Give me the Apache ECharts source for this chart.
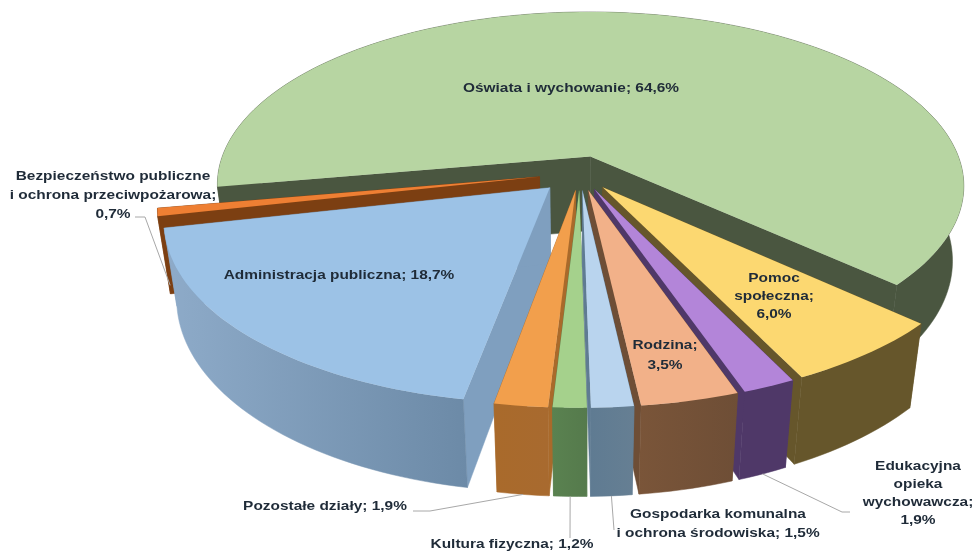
<!DOCTYPE html>
<html>
<head>
<meta charset="utf-8">
<title>Wydatki</title>
<style>
  html, body { margin: 0; padding: 0; background: #fff; }
  #main { width: 976px; height: 553px; }
</style>
<script src="https://cdn.jsdelivr.net/npm/echarts@6/dist/echarts.min.js"></script>
</head>
<body>
<div id="main"></div>
<script>
// dane, w kolejnosci zgodnej z ruchem wskazowek zegara
const categories = ['Oświata i wychowanie', 'Pomoc społeczna', 'Edukacyjna opieka wychowawcza', 'Rodzina',
  'Gospodarka komunalna i ochrona środowiska', 'Kultura fizyczna', 'Pozostałe działy',
  'Administracja publiczna', 'Bezpieczeństwo publiczne i ochrona przeciwpożarowa']
const values = [64.6, 6.0, 1.9, 3.5, 1.5, 1.2, 1.9, 18.7, 0.7]
const labels = ['Oświata i wychowanie; 64,6%', 'Pomoc\nspołeczna;\n6,0%', 'Edukacyjna\nopieka\nwychowawcza;\n1,9%',
  'Rodzina;\n3,5%', 'Gospodarka komunalna\ni ochrona środowiska; 1,5%', 'Kultura fizyczna; 1,2%',
  'Pozostałe działy; 1,9%', 'Administracja publiczna; 18,7%',
  'Bezpieczeństwo publiczne\ni ochrona przeciwpożarowa;\n0,7%']

// kolory: wierzch, sciana (lewa i prawa strona gradientu)
const topColors = ['#b7d5a2', '#fcd871', '#b385d9', '#f2b189', '#b9d4ee', '#a5d18c', '#f29f4c', '#9cc2e6', '#ee7f33']
const wallColors = [['#4a5640', '#4a5640'], ['#66562b', '#66562b'], ['#4f3868', '#4f3868'], ['#7a5539', '#6e4e36'],
  ['#5f7b92', '#667f93'], ['#5a8250', '#557a4c'], ['#a96a2b', '#a86a2f'], ['#8eabc9', '#6c8aa7'], ['#7c3f12', '#7c3f12']]
const sideColors = ['#4a5640', '#66562b', '#4f3868', '#6e4e36', '#5f7b92', '#5a8250', '#a96a2b', '#7f9fbf', '#7c3f12']
const drawOrder = [0, 8, 7, 1, 2, 3, 6, 5, 4]

// polozenie opisow i linii odniesienia
const labelPos = [[571, 88], [774, 296], [918, 493], [665, 355], [718, 524], [512, 544], [325, 506], [339, 275], [113, 195]]
const labelHeight = [16, 18, 18, 20, 19, 16, 16, 16, 19]
const leaderEnds = { 2: [[842, 512], [850, 512]], 4: [[614, 530]], 5: [[570, 538]], 6: [[430, 511], [413, 511]], 8: [[145, 217], [135, 217]] }

// parametry rzutu
const cx = 580, cy = 173, Rx = 374, Ry = 174
const persp = 0.168, shrink = 0.03, depth = 78, startAngle = -100
const explode = [0.1, 0.1, 0.1, 0.1, 0.1, 0.1, 0.1, 0.115, 0.11]
const total = values.reduce((a, b) => a + b, 0)

let acc = startAngle
const slices = values.map(v => {
  const s = acc
  acc += v / total * 360
  return [s, acc]
})

// theta liczona od tylu wykresu zgodnie z ruchem wskazowek, z: 0 wierzch, 1 spod
function project(X, Y, z) {
  const p = 1 / (1 - persp * Y + shrink * z)
  return [cx + Rx * X * p, cy + Ry * Y * p + depth * z * Math.pow(p, 1.3)]
}
function rim(i, deg, z) {
  const mid = (slices[i][0] + slices[i][1]) / 2 * Math.PI / 180
  const t = deg * Math.PI / 180
  return project(Math.sin(t) + explode[i] * Math.sin(mid), -Math.cos(t) + explode[i] * -Math.cos(mid), z)
}
function apex(i, z) {
  const mid = (slices[i][0] + slices[i][1]) / 2 * Math.PI / 180
  return project(explode[i] * Math.sin(mid), -explode[i] * Math.cos(mid), z)
}
function arc(i, z) {
  const pts = []
  const [a, b] = slices[i]
  const n = Math.max(4, Math.ceil((b - a) / 1.5))
  for (let k = 0; k <= n; k++) pts.push(rim(i, a + (b - a) * k / n, z))
  return pts
}

function renderSlice(params, api) {
  const i = api.value(0)
  const top = arc(i, 0)
  const bottom = arc(i, 1)
  const a0 = apex(i, 0), a1 = apex(i, 1)
  const side = sideColors[i]
  const quad = (p, q, r, s) => ({ type: 'polygon', shape: { points: [p, q, r, s] }, style: { fill: side, stroke: side, lineWidth: 0.5 } })
  const wall = new echarts.graphic.LinearGradient(0, 0, 1, 0, [
    { offset: 0, color: wallColors[i][0] },
    { offset: 1, color: wallColors[i][1] }
  ])
  return {
    type: 'group',
    children: [
      quad(a0, top[0], bottom[0], a1),
      quad(a0, top[top.length - 1], bottom[bottom.length - 1], a1),
      {
        type: 'polygon',
        shape: { points: top.concat(bottom.slice().reverse()) },
        style: { fill: wall, stroke: wall, lineWidth: 0.5 }
      },
      { type: 'polygon', shape: { points: [a0].concat(top) }, style: { fill: topColors[i] } }
    ]
  }
}

function renderLabel(params, api) {
  const i = api.value(0)
  const children = []
  if (leaderEnds[i]) {
    const mid = (slices[i][0] + slices[i][1]) / 2
    const from = i === 8 ? rim(i, slices[i][1], 1) : rim(i, mid, 1)
    children.push({
      type: 'polyline',
      shape: { points: [from].concat(leaderEnds[i]) },
      style: { stroke: '#a8a8a8', lineWidth: 1, fill: null }
    })
  }
  // tekst w oryginale jest szerszy niz Liberation Sans, stad scaleX
  children.push({
    type: 'text',
    x: labelPos[i][0],
    y: labelPos[i][1],
    scaleX: 1.187,
    style: {
      text: labels[i],
      font: 'bold 13px "Liberation Sans", Arial, sans-serif',
      fill: '#1f2b38',
      align: 'center',
      verticalAlign: 'middle',
      lineHeight: labelHeight[i]
    }
  })
  return { type: 'group', children: children }
}

var myChart = echarts.init(document.getElementById('main'), null, { renderer: 'canvas' })
myChart.setOption({
  animation: false,
  backgroundColor: '#fff',
  series: [
    {
      type: 'custom',
      coordinateSystem: 'none',
      silent: true,
      z: 2,
      renderItem: renderSlice,
      data: drawOrder.map(i => ({ name: categories[i], value: [i, values[i]] }))
    },
    {
      type: 'custom',
      coordinateSystem: 'none',
      silent: true,
      z: 3,
      renderItem: renderLabel,
      data: values.map((v, i) => ({ name: categories[i], value: [i, v] }))
    }
  ]
})
</script>
</body>
</html>
